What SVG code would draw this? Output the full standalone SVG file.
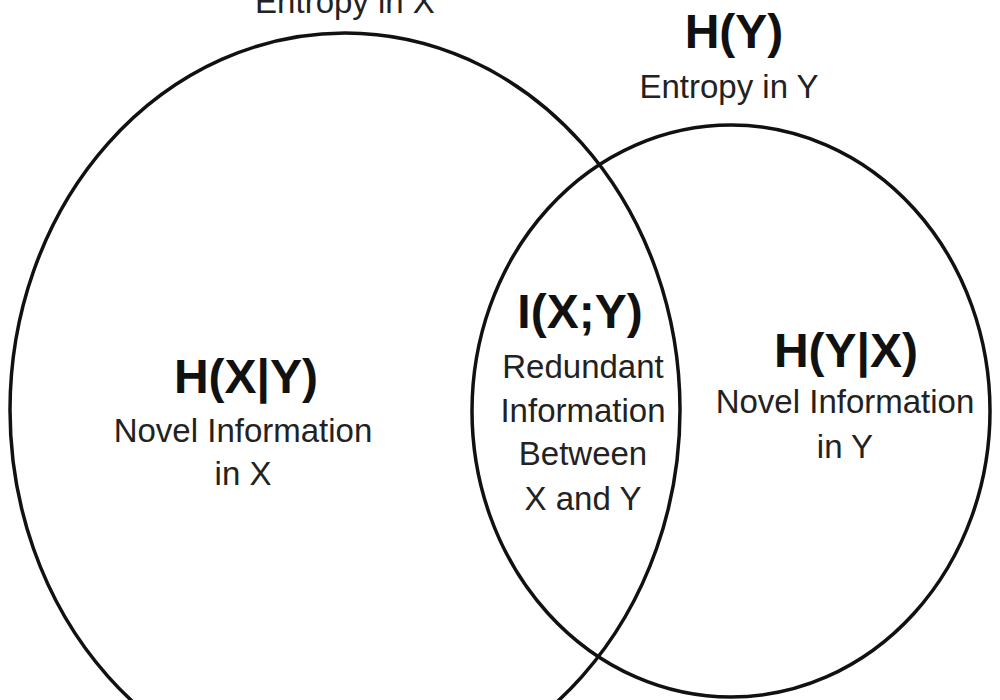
<svg xmlns="http://www.w3.org/2000/svg" width="1000" height="700" viewBox="0 0 1000 700">
<style>
.set{fill:none;stroke:#111;stroke-width:3.5}
.t{font-family:"Liberation Sans",Arial,sans-serif;text-anchor:middle;fill:#222}
.big{font-size:48px;font-weight:bold;fill:#111}
.small{font-size:33px}
</style>
<rect width="1000" height="700" fill="#fff"/>
<g id="setX">
<ellipse class="set" cx="345" cy="410" rx="335" ry="377"/>
<text class="t small" x="345" y="13">Entropy in X</text>
</g>
<g id="setY">
<ellipse class="set" cx="731" cy="411" rx="259" ry="286"/>
<text class="t big" x="734" y="48">H(Y)</text>
<text class="t small" x="729" y="98">Entropy in Y</text>
</g>
<g id="HXgivenY">
<text class="t big" x="246" y="393">H(X|Y)</text>
<text class="t small" x="243" y="442">Novel Information</text>
<text class="t small" x="243" y="485">in X</text>
</g>
<g id="IXY">
<text class="t big" x="580" y="328">I(X;Y)</text>
<text class="t small" x="583" y="378">Redundant</text>
<text class="t small" x="583" y="422">Information</text>
<text class="t small" x="583" y="465">Between</text>
<text class="t small" x="583" y="510">X and Y</text>
</g>
<g id="HYgivenX">
<text class="t big" x="846" y="367">H(Y|X)</text>
<text class="t small" x="845" y="413">Novel Information</text>
<text class="t small" x="845" y="458">in Y</text>
</g>
<g id="connectors"></g>
</svg>
